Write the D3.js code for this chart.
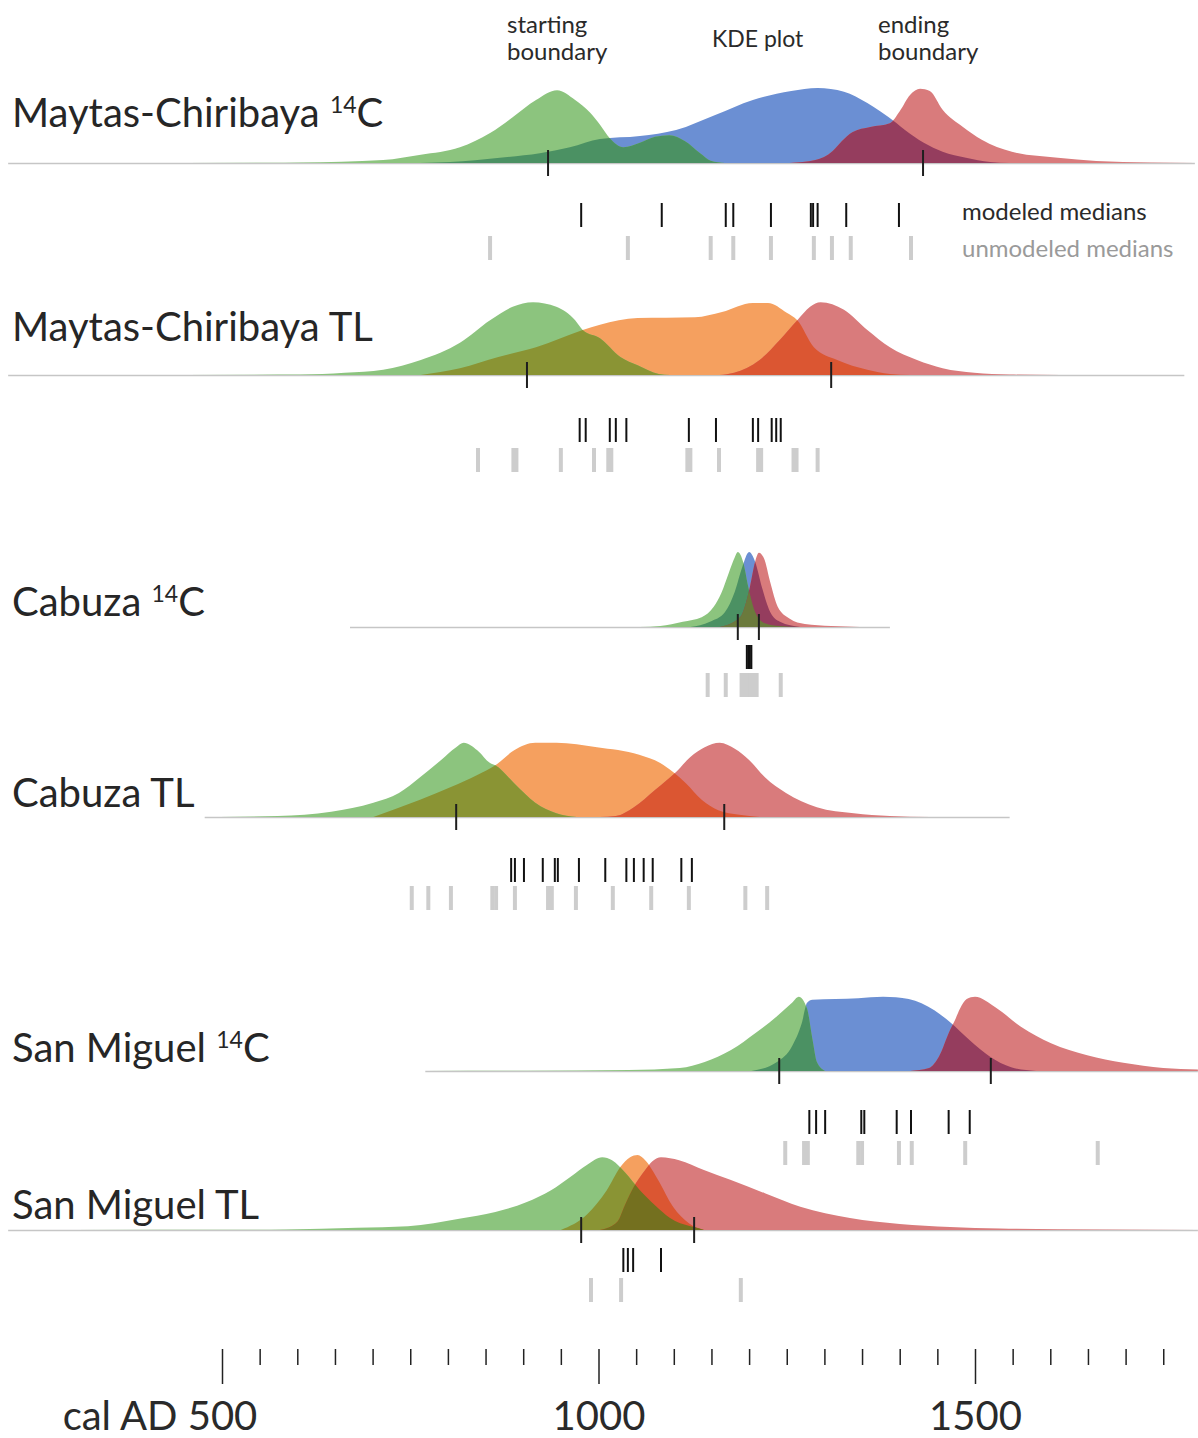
<!DOCTYPE html>
<html>
<head>
<meta charset="utf-8">
<script src="https://cdn.jsdelivr.net/npm/d3@7"></script>
<style>
  body { margin: 0; background: #fff; }
  svg { display: block; font-family: Lato, "Open Sans", sans-serif; }
</style>
</head>
<body>
<div id="chart"></div>
<script>
// one row per site / dating method, top to bottom
const siteNames = ['Maytas-Chiribaya', 'Maytas-Chiribaya', 'Cabuza', 'Cabuza', 'San Miguel', 'San Miguel'];
const methods = ['14C', 'TL', '14C', 'TL', '14C', 'TL'];

// posterior densities: [cal AD year, relative density 0-100]
const startBoundary = [
  [[358,0],[560,0.3],[604,0.7],[714,4],[764,11],[816,21],[856,40],[886,61],[917,84],[945,97],[969,84],[989,67],[1002,51],[1015,33],[1033,21],[1055,27],[1075,35],[1094,37],[1115,29],[1135,13],[1149,3],[1168,0]],
  [[358,0],[604,0.7],[663,3],[714,7],[764,20],[816,43],[856,73],[886,91],[913,97],[944,91],[969,73],[979,60],[1002,49],[1029,24],[1052,13],[1080,1.3],[1095,0]],
  [[1055,0],[1082,1.3],[1112,7],[1137,13],[1153,27],[1163,45],[1173,72],[1181,93],[1185,100],[1192,87],[1199,53],[1208,20],[1221,5],[1241,1.3],[1268,0]],
  [[497,0],[574,1.3],[645,7],[701,19],[735,32],[763,53],[791,76],[811,93],[821,99],[839,89],[856,72],[863,69],[888,45],[916,19],[944,5],[971,0]],
  [[770,0],[905,0.3],[1040,1.3],[1108,4],[1141,12],[1176,28],[1209,51],[1237,73],[1257,91],[1266,99],[1277,83],[1284,43],[1290,12],[1301,0]],
  [[300,0],[537,0.2],[585,0.7],[679,3],[747,5],[815,15],[863,24],[904,37],[937,53],[963,71],[985,87],[1005,97],[1018,93],[1035,77],[1055,53],[1075,33],[1095,16],[1122,5],[1161,0]]
];
const kdePlot = [
  [[763,0],[803,1.3],[869,7],[922,13],[962,21],[1002,32],[1055,36],[1103,44],[1155,64],[1205,84],[1256,96],[1291,100],[1326,95],[1357,80],[1374,69],[1396,53],[1407,44],[1432,27],[1457,15],[1488,7],[1520,1.3],[1546,0]],
  [[764,0],[816,9],[867,24],[917,37],[979,60],[1002,67],[1052,76],[1128,77],[1164,84],[1205,96],[1225,96],[1250,83],[1264,73],[1286,37],[1317,20],[1357,7],[1387,1.3],[1414,0]],
  [[1122,0],[1148,7],[1168,20],[1181,47],[1191,80],[1200,100],[1208,87],[1217,53],[1228,20],[1241,7],[1268,0]],
  [[701,0],[763,23],[804,40],[839,56],[863,69],[888,89],[916,99],[944,99],[998,93],[1054,83],[1082,72],[1099,60],[1116,45],[1137,23],[1159,9],[1187,3],[1214,0]],
  [[1203,0],[1237,12],[1257,33],[1270,64],[1277,91],[1284,95],[1345,97],[1378,99],[1412,96],[1446,81],[1467,65],[1493,41],[1520,19],[1548,5],[1581,0]],
  [[950,0],[985,21],[1011,53],[1029,84],[1042,97],[1052,100],[1062,93],[1079,67],[1099,31],[1120,9],[1140,0]]
];
const endBoundary = [
  [[1254,0],[1288,4],[1311,16],[1323,29],[1337,41],[1361,48],[1387,53],[1400,69],[1414,91],[1427,99],[1440,96],[1457,71],[1484,48],[1509,31],[1549,15],[1610,7],[1661,2.7],[1732,0.7],[1792,0]],
  [[1161,0],[1180,3],[1214,20],[1241,47],[1264,73],[1281,91],[1295,97],[1326,87],[1357,60],[1387,37],[1423,20],[1457,9],[1499,3],[1546,0.7],[1613,0]],
  [[1161,0],[1188,13],[1201,53],[1208,87],[1213,99],[1220,91],[1228,60],[1238,27],[1254,11],[1274,4],[1309,1.3],[1347,0]],
  [[1002,0],[1023,1.3],[1047,13],[1075,36],[1103,60],[1122,80],[1141,93],[1161,99],[1181,91],[1200,76],[1221,53],[1249,32],[1290,13],[1339,5],[1387,1.3],[1440,0]],
  [[1414,0],[1439,4],[1452,19],[1467,55],[1473,67],[1480,83],[1489,96],[1500,99],[1527,85],[1561,59],[1601,37],[1649,21],[1697,11],[1750,4],[1796,2]],
  [[1002,0],[1025,11],[1035,33],[1046,56],[1062,80],[1072,92],[1083,97],[1107,93],[1140,80],[1175,67],[1221,49],[1268,31],[1334,16],[1400,8],[1467,4],[1533,2],[1666,0.7],[1796,0]]
];

// medians of the starting and ending boundaries
const boundaryMedians = [[933,1431],[905,1309],[1185,1213],[811,1167],[1240,1521],[977,1127]];
const modeledMedians = [
  [977,1084,1169,1179,1229,1282,1285,1291,1329,1399],
  [975,983,1015,1023,1037,1120,1156,1205,1212,1230,1236,1242],
  [1197,1199,1201,1203],
  [884,889,901,926,942,946,974,1009,1037,1047,1060,1072,1110,1124],
  [1280,1289,1301,1349,1353,1396,1415,1465,1493],
  [1033,1039,1046,1083]
];
const unmodeledMedians = [
  [856,1039,1149,1179,1229,1286,1310,1335,1415],
  [840,887,891,950,994,1013,1017,1118,1122,1160,1212,1216,1259,1263,1291],
  [1145,1169,1190,1194,1198,1202,1206,1210,1242],
  [752,774,804,859,864,889,933,938,970,1019,1070,1120,1195,1224],
  [1248,1273,1278,1345,1350,1399,1416,1487,1663],
  [990,1030,1189]
];
// extent of each row's baseline, cal AD
const baselineSpan = [[216,1792],[216,1778],[670,1387],[477,1546],[770,1796],[216,1796]];

const majorTicks = [500, 1000, 1500];
const minorTicks = [550,600,650,700,750,800,850,900,950,1050,1100,1150,1200,1250,1300,1350,1400,1450,1550,1600,1650,1700,1750];

// layout
const W = 1198, H = 1438;
const rowY = [163, 375, 627, 817, 1071, 1230];
const labelDy = [-36, -34, -11, -10, -9, -11];
const medDy = [40, 43, 18, 41, 39, 18];
const unmedDy = [73, 73, 46, 69, 70, 48];

const palette = {
  '14C': { kde: '#6b8fd3', start: '#8cc47e', end: '#d97b7c', startKde: '#4b9163', endKde: '#953d5e', triple: '#6b7a3c' },
  'TL':  { kde: '#f5a05f', start: '#8cc47e', end: '#d97b7c', startKde: '#8a9434', endKde: '#db5632', triple: '#74701f' }
};

const x = d3.scaleLinear().domain([500, 1500]).range([222, 975]);
const h = d3.scaleLinear().domain([0, 100]).range([0, 75]);

const area = d3.area()
  .x(d => x(d[0]))
  .y0(0)
  .y1(d => -h(d[1]))
  .curve(d3.curveMonotoneX);

const svg = d3.select('#chart')
  .append('svg')
  .attr('width', W)
  .attr('height', H);

const defs = svg.append('defs');

siteNames.forEach((name, i) => {
  const c = palette[methods[i]];
  const g = svg.append('g').attr('transform', 'translate(0,' + rowY[i] + ')');

  // clip paths live in the row's own user space
  defs.append('clipPath').attr('id', 'kde' + i)
    .append('path').attr('d', area(kdePlot[i]));
  defs.append('clipPath').attr('id', 'end' + i)
    .append('path').attr('d', area(endBoundary[i]));

  g.append('line')
    .attr('x1', x(baselineSpan[i][0]))
    .attr('x2', x(baselineSpan[i][1]))
    .attr('y1', 0.5).attr('y2', 0.5)
    .attr('stroke', '#c6c6c6')
    .attr('stroke-width', 1.6);

  g.append('path').attr('d', area(kdePlot[i])).attr('fill', c.kde);
  g.append('path').attr('d', area(startBoundary[i])).attr('fill', c.start);
  g.append('path').attr('d', area(endBoundary[i])).attr('fill', c.end);
  // overlaps
  g.append('path').attr('d', area(startBoundary[i])).attr('fill', c.startKde)
    .attr('clip-path', 'url(#kde' + i + ')');
  g.append('path').attr('d', area(endBoundary[i])).attr('fill', c.endKde)
    .attr('clip-path', 'url(#kde' + i + ')');
  g.append('g').attr('clip-path', 'url(#end' + i + ')')
    .append('path').attr('d', area(startBoundary[i])).attr('fill', c.triple)
    .attr('clip-path', 'url(#kde' + i + ')');

  g.selectAll('line.bnd')
    .data(boundaryMedians[i])
    .enter()
    .append('line')
    .attr('class', 'bnd')
    .attr('x1', d => x(d)).attr('x2', d => x(d))
    .attr('y1', -13).attr('y2', 13)
    .attr('stroke', '#1e1e1e')
    .attr('stroke-width', 2);

  g.selectAll('line.unmod')
    .data(unmodeledMedians[i])
    .enter()
    .append('line')
    .attr('class', 'unmod')
    .attr('x1', d => x(d)).attr('x2', d => x(d))
    .attr('y1', unmedDy[i]).attr('y2', unmedDy[i] + 24)
    .attr('stroke', '#cdcdcd')
    .attr('stroke-width', 4);

  g.selectAll('line.mod')
    .data(modeledMedians[i])
    .enter()
    .append('line')
    .attr('class', 'mod')
    .attr('x1', d => x(d)).attr('x2', d => x(d))
    .attr('y1', medDy[i]).attr('y2', medDy[i] + 24)
    .attr('stroke', '#111')
    .attr('stroke-width', 2);

  const label = g.append('text')
    .attr('x', 12)
    .attr('y', labelDy[i])
    .attr('font-size', 40)
    .attr('fill', '#262626');
  if (methods[i] === '14C') {
    label.append('tspan').text(name + ' ');
    label.append('tspan').attr('font-size', 23).attr('dy', -14).text('14');
    label.append('tspan').attr('dy', 14).text('C');
  } else {
    label.append('tspan').text(name + ' ' + methods[i]);
  }
});

// annotations at the top
const notes = svg.append('g').attr('font-size', 24).attr('fill', '#2a2a2a');
notes.append('text').attr('x', 507).attr('y', 33).text('starting');
notes.append('text').attr('x', 507).attr('y', 60).text('boundary');
notes.append('text').attr('x', 712).attr('y', 47).attr('font-size', 23).text('KDE plot');
notes.append('text').attr('x', 878).attr('y', 33).text('ending');
notes.append('text').attr('x', 878).attr('y', 60).text('boundary');
notes.append('text').attr('x', 962).attr('y', 220).text('modeled medians');
notes.append('text').attr('x', 962).attr('y', 257).attr('fill', '#9a9a9a').text('unmodeled medians');

// time axis
const axisG = svg.append('g').attr('transform', 'translate(0,1349)');
axisG.append('g')
  .call(d3.axisBottom(x).tickValues(minorTicks).tickSize(16).tickFormat(''))
  .call(s => s.select('.domain').remove());
axisG.append('g')
  .call(d3.axisBottom(x).tickValues(majorTicks).tickSize(35).tickPadding(18).tickFormat(d3.format('d')))
  .call(s => s.select('.domain').remove());
axisG.selectAll('line').attr('stroke', '#222').attr('stroke-width', 1.5);
axisG.selectAll('text')
  .attr('font-size', 40)
  .attr('font-family', 'Lato, sans-serif')
  .attr('fill', '#2a2a2a');

const first = axisG.selectAll('text').filter(d => d === majorTicks[0]);
const numW = first.node().getComputedTextLength();
first.attr('text-anchor', 'end').attr('x', numW / 2).text('cal AD ' + majorTicks[0]);
</script>
</body>
</html>
